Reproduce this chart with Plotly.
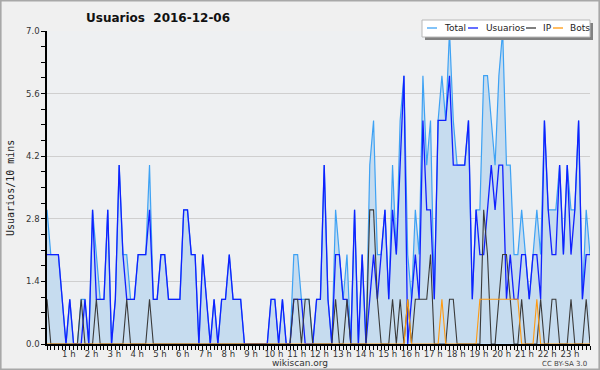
import plotly.graph_objects as go

# 10-minute slots over the day (index 0..143)
slots = list(range(144))

usuarios = [2,2,2,2,1,0,1,0,0,0, 1,0,3,1,1,1,3,0,1,4,
            2,1,1,1,2,2,2,3,1,1, 2,2,1,1,1,1,3,3,2,2,
            0,2,1,0,1,0,1,1,2,1, 1,1,0,0,0,0,0,0,0,1,
            1,0,1,0,0,1,1,1,0,0, 0,1,1,4,1,0,2,2,1,1,
            0,3,0,2,0,1,2,1,2,3, 1,3,2,4,6,0,1,2,1,5,
            3,3,1,5,5,5,6,4,4,4, 4,5,1,3,2,2,3,4,3,4,
            4,1,2,1,1,2,2,1,2,2, 1,5,3,2,2,4,2,4,2,3,
            5,1,2,2]

ip = [1,0,0,0,0,0,0,0,0,1, 0,0,0,1,0,0,0,0,0,0,
      0,1,0,0,0,0,0,1,0,0, 0,0,0,0,0,0,0,0,0,0,
      0,0,0,0,0,0,0,0,0,0, 0,0,0,0,0,0,0,0,0,0,
      0,0,0,0,0,1,1,0,1,1, 0,0,0,0,0,0,1,0,0,1,
      0,0,0,0,0,3,3,1,0,0, 0,1,0,1,0,1,0,1,1,1,
      1,2,0,0,0,0,1,1,0,0, 0,0,0,0,0,3,2,0,0,1,
      2,2,1,0,0,1,0,0,0,0, 1,0,0,1,1,0,0,0,1,0,
      0,0,1,0]

bots = [0]*95 + [1] + [0]*8 + [1] + [0]*9 + [1,1,1,1,1,1,1,1,1,1,1] + [0]*4 + [1] + [0]*14

total = [3,2,2,2,1,0,1,0,0,1, 1,0,3,2,1,1,3,0,1,4,
         2,2,1,1,2,2,2,4,1,1, 2,2,1,1,1,1,3,3,2,2,
         0,2,1,0,1,0,1,1,2,1, 1,1,0,0,0,0,0,0,0,1,
         1,0,1,0,0,2,2,1,1,1, 0,1,1,4,1,0,3,2,1,2,
         0,3,0,2,0,4,5,2,2,3, 1,4,2,5,6,2,1,3,2,6,
         4,5,1,5,6,5,7,5,4,4, 4,5,1,3,3,6,6,5,4,6,
         7,4,4,2,2,3,2,1,2,3, 2,5,3,3,3,4,2,4,3,3,
         5,1,3,2]

hour_ticks = [6 * h for h in range(1, 24)]
hour_labels = [f"{h} h" for h in range(1, 24)]
y_ticks = [0.0, 1.4, 2.8, 4.2, 5.6, 7.0]

# plot area in pixels
L, R, T, B = 47, 590, 31, 344
def px(x):
    return (x - L) / (R - L)
def py(y):
    return (B - y) / (B - T)

fig = go.Figure()
fig.add_trace(go.Scatter(x=slots, y=total, mode="lines", name="Total",
                         line=dict(color="#3ea2f4", width=1.2),
                         fill="tozeroy", fillcolor="#c6dcef"))
fig.add_trace(go.Scatter(x=slots, y=usuarios, mode="lines", name="Usuarios",
                         line=dict(color="#1020ff", width=1.3)))
fig.add_trace(go.Scatter(x=slots, y=ip, mode="lines", name="IP",
                         line=dict(color="#3a3a3a", width=1.1)))
fig.add_trace(go.Scatter(x=slots, y=bots, mode="lines", name="Bots",
                         line=dict(color="#ff9a10", width=1.1)))

tickfont = dict(family="DejaVu Sans", size=8.5, color="#333333")
fig.update_xaxes(range=[0, 143], tickmode="array", tickvals=hour_ticks, ticktext=hour_labels,
                 ticks="outside", ticklen=4, tickcolor="black", tickfont=tickfont,
                 showline=True, linecolor="black", linewidth=1.5, showgrid=False,
                 zeroline=False, ticklabelshift=-1, ticklabelstandoff=-3,
                 minor=dict(tickmode="linear", tick0=0, dtick=1, ticks="outside",
                            ticklen=4, tickcolor="black", showgrid=False))
fig.update_yaxes(range=[0, 7], tickmode="array", tickvals=y_ticks,
                 ticktext=[f"{v:.1f}" for v in y_ticks],
                 ticks="outside", ticklen=4, tickcolor="black", tickfont=tickfont,
                 showline=True, linecolor="black", linewidth=1.5,
                 showgrid=True, gridcolor="#cfcfcf", gridwidth=1, zeroline=False,
                 minor=dict(tickmode="linear", tick0=0, dtick=0.35, ticks="outside",
                            ticklen=4, tickcolor="black", showgrid=False))

shapes = [
    # outer border
    dict(type="rect", xref="paper", yref="paper", x0=px(0.8), x1=px(599.2), y0=py(369.2), y1=py(0.8),
         line=dict(color="#a8a8a8", width=1.6), layer="above"),
    # legend shadow & box
    dict(type="rect", xref="paper", yref="paper", x0=px(425), x1=px(593), y0=py(40), y1=py(23),
         fillcolor="#808080", line=dict(width=0), layer="above"),
    dict(type="rect", xref="paper", yref="paper", x0=px(422), x1=px(590), y0=py(37), y1=py(20),
         fillcolor="white", line=dict(color="#b8b8b8", width=1), layer="above"),
]
legend_items = [("Total", "#3ea2f4", 427, 442), ("Usuarios", "#1020ff", 468, 484),
                ("IP", "#3a3a3a", 526, 541), ("Bots", "#ff9a10", 553, 568)]
annotations = []
for name, col, lx, tx in legend_items:
    shapes.append(dict(type="line", xref="paper", yref="paper", x0=px(lx), x1=px(lx + 10),
                       y0=py(28), y1=py(28), line=dict(color=col, width=1.3), layer="above"))
    annotations.append(dict(text=name, xref="paper", yref="paper", x=px(tx), y=py(28),
                            xanchor="left", yanchor="middle", showarrow=False,
                            font=dict(family="DejaVu Sans", size=9, color="#222222")))

annotations += [
    dict(text="Usuarios  2016-12-06", xref="paper", yref="paper", x=px(84), y=py(18),
         xanchor="left", yanchor="middle", showarrow=False,
         font=dict(family="DejaVu Sans", size=12, color="#111111", weight="bold")),
    dict(text="Usuarios/10 mins", xref="paper", yref="paper", x=px(10), y=py(188),
         xanchor="center", yanchor="middle", textangle=-90, showarrow=False,
         font=dict(family="DejaVu Sans Mono", size=10, color="#222222")),
    dict(text="wikiscan.org", xref="paper", yref="paper", x=px(300), y=py(363),
         xanchor="center", yanchor="middle", showarrow=False,
         font=dict(family="DejaVu Sans", size=9, color="#333333")),
    dict(text="CC BY-SA 3.0", xref="paper", yref="paper", x=px(589), y=py(364),
         xanchor="right", yanchor="middle", showarrow=False,
         font=dict(family="DejaVu Sans", size=7, color="#444444")),
]

fig.update_layout(width=600, height=370, margin=dict(l=L, r=600 - R, t=T, b=370 - B),
                  paper_bgcolor="#f0f0f0", plot_bgcolor="#eef0f2", showlegend=False,
                  shapes=shapes, annotations=annotations)
fig.write_html("out.html", config={"displayModeBar": False})

# remove the default page margin so the figure sits at the window's top-left corner
with open("out.html", "r", encoding="utf-8") as f:
    html = f.read()
html = html.replace("<head>", "<head><style>html,body{margin:0;padding:0;overflow:hidden;}</style>", 1)
with open("out.html", "w", encoding="utf-8") as f:
    f.write(html)
